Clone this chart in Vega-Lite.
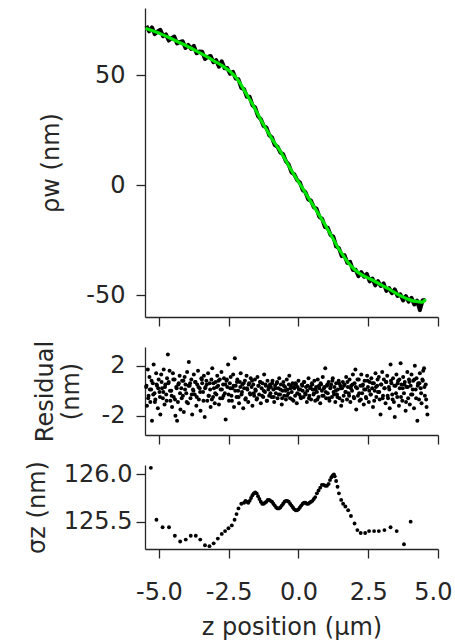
{
  "$schema": "https://vega.github.io/schema/vega-lite/v6.json",
  "background": "white",
  "padding": {"left": 25, "top": 8, "right": 0, "bottom": 2},
  "spacing": 30,
  "bounds": "flush",
  "config": {
    "view": {"stroke": null},
    "font": "DejaVu Sans",
    "axis": {
      "labelFont": "DejaVu Sans", "titleFont": "DejaVu Sans",
      "labelFontSize": 24, "titleFontSize": 24,
      "labelColor": "#262626", "titleColor": "#262626", "titleFontWeight": "normal",
      "domainColor": "#262626", "tickColor": "#262626",
      "domainWidth": 1.3, "tickWidth": 1.3, "tickSize": 9, "grid": false
    }
  },
  "datasets": {
    "rho": [
      {"z":-5.45,"rho":72.4},{"z":-5.35,"rho":69.9},{"z":-5.25,"rho":71.7},{"z":-5.15,"rho":68.6},{"z":-5.05,"rho":69.8},
      {"z":-4.95,"rho":70.6},{"z":-4.85,"rho":67.7},{"z":-4.75,"rho":68.5},{"z":-4.65,"rho":65.7},{"z":-4.55,"rho":66.8},
      {"z":-4.45,"rho":67.5},{"z":-4.35,"rho":64.4},{"z":-4.25,"rho":65.1},{"z":-4.15,"rho":65.4},{"z":-4.05,"rho":62.3},
      {"z":-3.95,"rho":63.7},{"z":-3.85,"rho":61.9},{"z":-3.75,"rho":63.3},{"z":-3.65,"rho":59.9},{"z":-3.55,"rho":60.7},
      {"z":-3.45,"rho":60.6},{"z":-3.35,"rho":57.3},{"z":-3.25,"rho":58.3},{"z":-3.15,"rho":58.7},{"z":-3.05,"rho":55.9},
      {"z":-2.95,"rho":56.8},{"z":-2.85,"rho":53.8},{"z":-2.75,"rho":56.3},{"z":-2.65,"rho":53.1},{"z":-2.55,"rho":53.2},
      {"z":-2.45,"rho":50.6},{"z":-2.35,"rho":51.5},{"z":-2.25,"rho":48.4},{"z":-2.15,"rho":48.1},{"z":-2.05,"rho":44.2},
      {"z":-1.95,"rho":43.6},{"z":-1.85,"rho":40.1},{"z":-1.75,"rho":40.1},{"z":-1.65,"rho":36.3},{"z":-1.55,"rho":35.2},
      {"z":-1.45,"rho":31.3},{"z":-1.35,"rho":30.0},{"z":-1.25,"rho":26.9},{"z":-1.15,"rho":26.2},{"z":-1.05,"rho":22.7},
      {"z":-0.95,"rho":21.6},{"z":-0.85,"rho":18.2},{"z":-0.75,"rho":17.4},{"z":-0.65,"rho":14.8},{"z":-0.55,"rho":14.0},
      {"z":-0.45,"rho":10.8},{"z":-0.35,"rho":9.3},{"z":-0.25,"rho":5.8},{"z":-0.15,"rho":4.9},{"z":-0.05,"rho":2.3},
      {"z":0.05,"rho":1.2},{"z":0.15,"rho":-2.2},{"z":0.25,"rho":-3.3},{"z":0.35,"rho":-6.5},{"z":0.45,"rho":-7.1},
      {"z":0.55,"rho":-10.1},{"z":0.65,"rho":-10.8},{"z":0.75,"rho":-14.5},{"z":0.85,"rho":-15.4},{"z":0.95,"rho":-19.1},
      {"z":1.05,"rho":-19.4},{"z":1.15,"rho":-22.7},{"z":1.25,"rho":-23.5},{"z":1.35,"rho":-27.9},{"z":1.45,"rho":-28.7},
      {"z":1.55,"rho":-32.3},{"z":1.65,"rho":-31.9},{"z":1.75,"rho":-35.4},{"z":1.85,"rho":-34.9},{"z":1.95,"rho":-38.6},
      {"z":2.05,"rho":-38.5},{"z":2.15,"rho":-41.4},{"z":2.25,"rho":-39.6},{"z":2.35,"rho":-41.7},{"z":2.45,"rho":-40.4},
      {"z":2.55,"rho":-43.8},{"z":2.65,"rho":-42.5},{"z":2.75,"rho":-45.6},{"z":2.85,"rho":-43.7},{"z":2.95,"rho":-45.9},
      {"z":3.05,"rho":-44.7},{"z":3.15,"rho":-48.1},{"z":3.25,"rho":-46.9},{"z":3.35,"rho":-49.2},{"z":3.45,"rho":-47.4},
      {"z":3.55,"rho":-50.4},{"z":3.65,"rho":-49.7},{"z":3.75,"rho":-52.5},{"z":3.85,"rho":-50.5},{"z":3.95,"rho":-53.0},
      {"z":4.05,"rho":-51.3},{"z":4.15,"rho":-54.3},{"z":4.25,"rho":-52.6},{"z":4.35,"rho":-56.9},{"z":4.45,"rho":-52.4},
      {"z":4.55,"rho":-52.3}
    ],
    "fit": [
      {"z":-5.48,"fit":71.3},{"z":-5.2,"fit":70.0},{"z":-4.9,"fit":68.5},{"z":-4.55,"fit":66.5},{"z":-4.25,"fit":64.7},
      {"z":-3.95,"fit":62.9},{"z":-3.65,"fit":60.9},{"z":-3.35,"fit":58.8},{"z":-3.05,"fit":56.6},{"z":-2.75,"fit":54.4},
      {"z":-2.45,"fit":51.6},{"z":-2.2,"fit":48.3},{"z":-2.03,"fit":45.0},{"z":-1.85,"fit":41.0},{"z":-1.67,"fit":37.3},
      {"z":-1.5,"fit":33.3},{"z":-1.31,"fit":28.8},{"z":-1.1,"fit":24.2},{"z":-0.95,"fit":21.0},{"z":-0.7,"fit":16.3},
      {"z":-0.47,"fit":11.5},{"z":-0.25,"fit":6.6},{"z":0.0,"fit":1.5},{"z":0.25,"fit":-3.6},{"z":0.48,"fit":-8.3},
      {"z":0.72,"fit":-13.2},{"z":0.96,"fit":-18.2},{"z":1.2,"fit":-23.5},{"z":1.38,"fit":-27.7},{"z":1.6,"fit":-32.0},
      {"z":1.8,"fit":-35.6},{"z":2.0,"fit":-38.3},{"z":2.2,"fit":-40.3},{"z":2.45,"fit":-42.0},{"z":2.7,"fit":-43.5},
      {"z":2.95,"fit":-45.3},{"z":3.2,"fit":-47.0},{"z":3.45,"fit":-48.9},{"z":3.7,"fit":-50.6},{"z":3.96,"fit":-52.1},
      {"z":4.15,"fit":-52.8},{"z":4.32,"fit":-53.1},{"z":4.44,"fit":-53.2},{"z":4.5,"fit":-52.8},{"z":4.55,"fit":-51.8}
    ],
    "res": [
      {"z":-5.46,"r":0.3},{"z":-5.43,"r":-1.2},{"z":-5.40,"r":1.7},{"z":-5.37,"r":-0.4},{"z":-5.34,"r":1.1},
      {"z":-5.31,"r":-0.9},{"z":-5.28,"r":0.1},{"z":-5.25,"r":-2.4},{"z":-5.22,"r":0.6},{"z":-5.19,"r":2.1},
      {"z":-5.16,"r":-0.2},{"z":-5.13,"r":-0.7},{"z":-5.10,"r":1.4},{"z":-5.07,"r":0.4},{"z":-5.04,"r":-1.4},
      {"z":-5.01,"r":0.9},{"z":-4.98,"r":-0.1},{"z":-4.95,"r":-1.9},{"z":-4.92,"r":1.3},{"z":-4.89,"r":0.2},
      {"z":-4.86,"r":-0.6},{"z":-4.83,"r":1.7},{"z":-4.80,"r":-1.1},{"z":-4.77,"r":0.5},{"z":-4.74,"r":-0.3},
      {"z":-4.71,"r":1.0},{"z":-4.68,"r":2.9},{"z":-4.65,"r":0.7},{"z":-4.62,"r":1.6},{"z":-4.59,"r":-0.8},
      {"z":-4.56,"r":0.0},{"z":-4.53,"r":-1.3},{"z":-4.50,"r":1.4},{"z":-4.47,"r":-0.5},{"z":-4.44,"r":0.9},
      {"z":-4.41,"r":-2.0},{"z":-4.38,"r":0.3},{"z":-4.35,"r":-2.4},{"z":-4.32,"r":-0.9},{"z":-4.29,"r":0.6},
      {"z":-4.26,"r":1.2},{"z":-4.23,"r":-1.5},{"z":-4.20,"r":0.2},{"z":-4.17,"r":0.8},{"z":-4.14,"r":-0.4},
      {"z":-4.11,"r":-1.7},{"z":-4.08,"r":1.1},{"z":-4.05,"r":0.5},{"z":-4.02,"r":-0.2},{"z":-3.99,"r":1.5},
      {"z":-3.96,"r":-1.0},{"z":-3.93,"r":2.3},{"z":-3.90,"r":0.4},{"z":-3.87,"r":-0.6},{"z":-3.84,"r":0.9},
      {"z":-3.81,"r":-1.9},{"z":-3.78,"r":0.1},{"z":-3.75,"r":1.3},{"z":-3.72,"r":-0.3},{"z":-3.69,"r":0.7},
      {"z":-3.66,"r":-1.2},{"z":-3.63,"r":0.5},{"z":-3.60,"r":1.6},{"z":-3.57,"r":-0.7},{"z":-3.54,"r":0.2},
      {"z":-3.51,"r":-1.6},{"z":-3.48,"r":1.0},{"z":-3.45,"r":0.6},{"z":-3.42,"r":-0.1},{"z":-3.39,"r":1.2},
      {"z":-3.36,"r":-2.1},{"z":-3.33,"r":0.3},{"z":-3.30,"r":0.8},{"z":-3.27,"r":-0.8},{"z":-3.24,"r":1.4},
      {"z":-3.21,"r":-0.4},{"z":-3.18,"r":0.6},{"z":-3.15,"r":-1.3},{"z":-3.12,"r":0.9},{"z":-3.09,"r":1.8},
      {"z":-3.06,"r":-0.5},{"z":-3.03,"r":0.2},{"z":-3.00,"r":-1.0},
      {"z":-2.97,"r":0.7},{"z":-2.94,"r":-0.3},{"z":-2.91,"r":1.2},{"z":-2.88,"r":0.4},{"z":-2.85,"r":-1.1},
      {"z":-2.82,"r":0.9},{"z":-2.79,"r":0.1},{"z":-2.76,"r":1.5},{"z":-2.73,"r":-0.6},{"z":-2.70,"r":0.5},
      {"z":-2.67,"r":1.0},{"z":-2.64,"r":-0.2},{"z":-2.61,"r":-2.3},{"z":-2.58,"r":0.8},{"z":-2.55,"r":0.3},
      {"z":-2.52,"r":2.1},{"z":-2.49,"r":-0.8},{"z":-2.46,"r":0.6},{"z":-2.43,"r":1.1},{"z":-2.40,"r":-0.4},
      {"z":-2.37,"r":0.2},{"z":-2.34,"r":1.3},{"z":-2.31,"r":-1.3},{"z":-2.28,"r":2.6},{"z":-2.25,"r":0.4},
      {"z":-2.22,"r":-0.5},{"z":-2.19,"r":0.9},{"z":-2.16,"r":0.0},{"z":-2.13,"r":-1.0},{"z":-2.10,"r":0.7},
      {"z":-2.07,"r":1.4},{"z":-2.04,"r":-0.3},{"z":-2.01,"r":0.5},{"z":-1.98,"r":-1.4},{"z":-1.95,"r":0.2},
      {"z":-1.92,"r":0.8},{"z":-1.89,"r":-0.6},{"z":-1.86,"r":1.2},{"z":-1.83,"r":0.1},{"z":-1.80,"r":-0.9},
      {"z":-1.77,"r":0.6},{"z":-1.74,"r":-0.2},{"z":-1.71,"r":1.0},{"z":-1.68,"r":0.3},{"z":-1.65,"r":-1.2},
      {"z":-1.62,"r":0.5},{"z":-1.59,"r":-0.4},{"z":-1.56,"r":0.9},{"z":-1.53,"r":0.0},{"z":-1.50,"r":-0.7},
      {"z":-1.47,"r":1.1},{"z":-1.44,"r":0.4},{"z":-1.41,"r":-0.3},{"z":-1.38,"r":0.7},{"z":-1.35,"r":-1.0},
      {"z":-1.32,"r":0.2},{"z":-1.29,"r":0.6},{"z":-1.26,"r":-0.5},{"z":-1.23,"r":1.3},{"z":-1.20,"r":-0.1},
      {"z":-1.17,"r":0.4},{"z":-1.14,"r":-0.8},{"z":-1.11,"r":0.8},{"z":-1.08,"r":0.1},{"z":-1.05,"r":-0.4},
      {"z":-1.02,"r":0.5},
      {"z":-0.99,"r":0.3},{"z":-0.96,"r":-0.5},{"z":-0.93,"r":0.8},{"z":-0.90,"r":0.1},{"z":-0.87,"r":-0.9},
      {"z":-0.84,"r":0.4},{"z":-0.81,"r":-0.2},{"z":-0.78,"r":0.6},{"z":-0.75,"r":-0.6},{"z":-0.72,"r":0.2},
      {"z":-0.69,"r":1.0},{"z":-0.66,"r":-0.3},{"z":-0.63,"r":0.5},{"z":-0.60,"r":-1.1},{"z":-0.57,"r":0.0},
      {"z":-0.54,"r":0.7},{"z":-0.51,"r":-0.4},{"z":-0.48,"r":0.3},{"z":-0.45,"r":-0.7},{"z":-0.42,"r":0.9},
      {"z":-0.39,"r":0.1},{"z":-0.36,"r":-0.2},{"z":-0.33,"r":1.2},{"z":-0.30,"r":-0.6},{"z":-0.27,"r":0.4},
      {"z":-0.24,"r":-0.1},{"z":-0.21,"r":0.6},{"z":-0.18,"r":-0.8},{"z":-0.15,"r":0.2},{"z":-0.12,"r":-0.4},
      {"z":-0.09,"r":0.5},{"z":-0.06,"r":-1.0},{"z":-0.03,"r":0.3},{"z":0.00,"r":0.8},{"z":0.03,"r":-0.3},
      {"z":0.06,"r":0.1},{"z":0.09,"r":-0.6},{"z":0.12,"r":0.5},{"z":0.15,"r":0.0},{"z":0.18,"r":-0.5},
      {"z":0.21,"r":0.7},{"z":0.24,"r":-0.2},{"z":0.27,"r":0.3},{"z":0.30,"r":-0.9},{"z":0.33,"r":0.4},
      {"z":0.36,"r":1.0},{"z":0.39,"r":-0.4},{"z":0.42,"r":0.2},{"z":0.45,"r":-0.7},{"z":0.48,"r":0.6},
      {"z":0.51,"r":0.1},{"z":0.54,"r":-0.3},{"z":0.57,"r":0.8},{"z":0.60,"r":-0.8},{"z":0.63,"r":0.3},
      {"z":0.66,"r":-0.1},{"z":0.69,"r":0.9},{"z":0.72,"r":-0.5},{"z":0.75,"r":0.2},{"z":0.78,"r":-1.0},
      {"z":0.81,"r":0.5},{"z":0.84,"r":0.0},{"z":0.87,"r":1.1},{"z":0.90,"r":-0.4},{"z":0.93,"r":0.3},
      {"z":0.96,"r":1.8},{"z":0.99,"r":-0.6},{"z":1.02,"r":0.4},{"z":1.05,"r":-0.2},{"z":1.08,"r":0.7},
      {"z":1.11,"r":-0.8},{"z":1.14,"r":0.2},{"z":1.17,"r":0.5},{"z":1.20,"r":-0.5},{"z":1.23,"r":1.0},
      {"z":1.26,"r":-0.1},{"z":1.29,"r":0.3},{"z":1.32,"r":-0.9},{"z":1.35,"r":0.6},{"z":1.38,"r":-0.3},
      {"z":1.41,"r":0.1},{"z":1.44,"r":0.8},{"z":1.47,"r":-0.6},{"z":1.50,"r":0.4},{"z":1.53,"r":-1.2},
      {"z":1.56,"r":0.2},{"z":1.59,"r":0.7},{"z":1.62,"r":-0.4},{"z":1.65,"r":0.5},{"z":1.68,"r":-0.1},
      {"z":1.71,"r":1.1},{"z":1.74,"r":-0.7},{"z":1.77,"r":0.3},{"z":1.80,"r":-0.2},{"z":1.83,"r":0.9},
      {"z":1.86,"r":-0.9},{"z":1.89,"r":0.4},{"z":1.92,"r":0.0},{"z":1.95,"r":1.3},{"z":1.98,"r":-0.5},
      {"z":2.01,"r":0.6},{"z":2.04,"r":1.7},{"z":2.07,"r":-1.5},{"z":2.10,"r":0.2},{"z":2.13,"r":-0.4},
      {"z":2.16,"r":0.9},{"z":2.19,"r":-0.8},{"z":2.22,"r":0.4},{"z":2.25,"r":1.3},{"z":2.28,"r":-0.2},
      {"z":2.31,"r":0.5},{"z":2.34,"r":-1.1},{"z":2.37,"r":0.8},{"z":2.40,"r":0.1},{"z":2.43,"r":-0.6},
      {"z":2.46,"r":1.2},{"z":2.49,"r":0.3},{"z":2.52,"r":-0.9},{"z":2.55,"r":0.7},{"z":2.58,"r":-0.3},
      {"z":2.61,"r":1.0},{"z":2.64,"r":0.2},{"z":2.67,"r":-1.3},{"z":2.70,"r":0.6},{"z":2.73,"r":0.0},
      {"z":2.76,"r":1.4},{"z":2.79,"r":-0.5},{"z":2.82,"r":0.4},{"z":2.85,"r":-0.1},{"z":2.88,"r":1.1},
      {"z":2.91,"r":-0.7},{"z":2.94,"r":-1.9},{"z":2.97,"r":0.5},{"z":3.00,"r":1.5},{"z":3.03,"r":-0.4},
      {"z":3.06,"r":0.9},{"z":3.09,"r":0.2},{"z":3.12,"r":-1.0},{"z":3.15,"r":0.7},{"z":3.18,"r":1.2},
      {"z":3.21,"r":-0.6},{"z":3.24,"r":0.3},{"z":3.27,"r":-1.4},{"z":3.30,"r":2.1},{"z":3.33,"r":0.6},
      {"z":3.36,"r":-0.3},{"z":3.39,"r":1.0},{"z":3.42,"r":-0.9},{"z":3.45,"r":-2.1},{"z":3.48,"r":0.4},
      {"z":3.51,"r":1.3},{"z":3.54,"r":-0.5},{"z":3.57,"r":0.8},{"z":3.60,"r":-1.2},{"z":3.63,"r":0.2},
      {"z":3.66,"r":2.2},{"z":3.69,"r":0.5},{"z":3.72,"r":-0.8},{"z":3.75,"r":1.1},{"z":3.78,"r":-0.2},
      {"z":3.81,"r":0.7},{"z":3.84,"r":-1.6},{"z":3.87,"r":0.3},{"z":3.90,"r":1.5},{"z":3.93,"r":-0.6},
      {"z":3.96,"r":0.9},{"z":3.99,"r":-1.1},{"z":4.02,"r":0.4},{"z":4.05,"r":1.3},{"z":4.08,"r":-0.3},
      {"z":4.11,"r":0.8},{"z":4.14,"r":-1.4},{"z":4.17,"r":2.0},{"z":4.20,"r":0.1},{"z":4.23,"r":1.0},
      {"z":4.26,"r":-2.4},{"z":4.29,"r":0.6},{"z":4.32,"r":-0.7},{"z":4.35,"r":1.4},{"z":4.38,"r":0.2},
      {"z":4.41,"r":-1.0},{"z":4.44,"r":0.9},{"z":4.47,"r":1.6},{"z":4.50,"r":1.8},{"z":4.53,"r":-0.4},
      {"z":4.56,"r":0.5},{"z":4.59,"r":-1.3},{"z":4.62,"r":-1.9},
      {"z":-5.445,"r":0.4},{"z":-5.385,"r":-0.6},{"z":-5.325,"r":0.1},{"z":-5.265,"r":0.8},{"z":-5.205,"r":-0.3},
      {"z":-5.145,"r":-0.9},{"z":-5.085,"r":0.5},{"z":-5.025,"r":0.2},{"z":-4.965,"r":-0.5},{"z":-4.905,"r":0.7},
      {"z":-4.845,"r":-0.1},{"z":-4.785,"r":0.3},{"z":-4.725,"r":-0.8},{"z":-4.665,"r":0.6},{"z":-4.605,"r":0.0},
      {"z":-4.545,"r":-0.4},{"z":-4.485,"r":0.9},{"z":-4.425,"r":-0.7},{"z":-4.365,"r":0.2},{"z":-4.305,"r":0.5},
      {"z":-4.245,"r":-0.2},{"z":-4.185,"r":-0.6},{"z":-4.125,"r":0.8},{"z":-4.065,"r":0.1},{"z":-4.005,"r":-0.9},
      {"z":-3.945,"r":0.4},{"z":-3.885,"r":0.6},{"z":-3.825,"r":-0.3},{"z":-3.765,"r":0.0},{"z":-3.705,"r":0.7},
      {"z":-3.645,"r":-0.5},{"z":-3.585,"r":0.3},{"z":-3.525,"r":-0.1},{"z":-3.465,"r":0.9},{"z":-3.405,"r":-0.8},
      {"z":-3.345,"r":0.2},{"z":-3.285,"r":0.5},{"z":-3.225,"r":-0.4},{"z":-3.165,"r":0.1},{"z":-3.105,"r":-0.7},
      {"z":-3.045,"r":0.6},{"z":-2.985,"r":-0.2},{"z":-2.925,"r":0.3},{"z":-2.865,"r":0.8},{"z":-2.805,"r":-0.6},
      {"z":-2.745,"r":0.1},{"z":-2.685,"r":-0.4},{"z":-2.625,"r":0.5},{"z":-2.565,"r":0.9},{"z":-2.505,"r":-0.3},
      {"z":-2.445,"r":0.2},{"z":-2.385,"r":-0.8},{"z":-2.325,"r":0.4},{"z":-2.265,"r":0.0},{"z":-2.205,"r":0.7},
      {"z":-2.145,"r":-0.5},{"z":-2.085,"r":0.3},{"z":-2.025,"r":-0.1},{"z":-1.965,"r":0.6},{"z":-1.905,"r":-0.7},
      {"z":-1.845,"r":0.2},{"z":-1.785,"r":0.5},{"z":-1.725,"r":-0.3},{"z":-1.665,"r":0.8},{"z":-1.605,"r":-0.2},
      {"z":-1.545,"r":0.1},{"z":-1.485,"r":-0.6},{"z":-1.425,"r":0.4},{"z":-1.365,"r":0.7},{"z":-1.305,"r":-0.4},
      {"z":-1.245,"r":0.0},{"z":-1.185,"r":0.5},{"z":-1.125,"r":-0.8},{"z":-1.065,"r":0.3},{"z":-1.005,"r":-0.2},
      {"z":-0.945,"r":0.6},{"z":-0.885,"r":-0.5},{"z":-0.825,"r":0.2},{"z":-0.765,"r":0.7},{"z":-0.705,"r":-0.3},
      {"z":-0.645,"r":0.1},{"z":-0.585,"r":-0.6},{"z":-0.525,"r":0.4},{"z":-0.465,"r":0.0},{"z":-0.405,"r":-0.4},
      {"z":-0.345,"r":0.5},{"z":-0.285,"r":0.2},{"z":-0.225,"r":-0.7},{"z":-0.165,"r":0.3},{"z":-0.105,"r":0.6},
      {"z":-0.045,"r":-0.2},{"z":0.015,"r":0.1},{"z":0.075,"r":-0.5},{"z":0.135,"r":0.4},{"z":0.195,"r":0.7},
      {"z":0.255,"r":-0.3},{"z":0.315,"r":0.0},{"z":0.375,"r":-0.6},{"z":0.435,"r":0.3},{"z":0.495,"r":0.5},
      {"z":0.555,"r":-0.2},{"z":0.615,"r":0.1},{"z":0.675,"r":-0.7},{"z":0.735,"r":0.4},{"z":0.795,"r":0.6},
      {"z":0.855,"r":-0.4},{"z":0.915,"r":0.2},{"z":0.975,"r":-0.1},{"z":1.035,"r":0.5},{"z":1.095,"r":-0.6},
      {"z":1.155,"r":0.3},{"z":1.215,"r":0.8},{"z":1.275,"r":-0.3},{"z":1.335,"r":0.0},{"z":1.395,"r":-0.5},
      {"z":1.455,"r":0.6},{"z":1.515,"r":0.2},{"z":1.575,"r":-0.8},{"z":1.635,"r":0.4},{"z":1.695,"r":-0.1},
      {"z":1.755,"r":0.7},{"z":1.815,"r":-0.4},{"z":1.875,"r":0.2},{"z":1.935,"r":0.5},{"z":1.995,"r":-0.6},
      {"z":2.055,"r":0.3},{"z":2.115,"r":0.9},{"z":2.175,"r":-0.2},{"z":2.235,"r":-0.7},{"z":2.295,"r":0.4},
      {"z":2.355,"r":0.1},{"z":2.415,"r":-0.5},{"z":2.475,"r":0.8},{"z":2.535,"r":0.0},{"z":2.595,"r":-0.3},
      {"z":2.655,"r":0.6},{"z":2.715,"r":-0.8},{"z":2.775,"r":0.3},{"z":2.835,"r":0.9},{"z":2.895,"r":-0.1},
      {"z":2.955,"r":0.5},{"z":3.015,"r":-0.6},{"z":3.075,"r":0.2},{"z":3.135,"r":0.7},{"z":3.195,"r":-0.4},
      {"z":3.255,"r":0.1},{"z":3.315,"r":0.8},{"z":3.375,"r":-0.7},{"z":3.435,"r":0.4},{"z":3.495,"r":-0.2},
      {"z":3.555,"r":0.6},{"z":3.615,"r":0.9},{"z":3.675,"r":-0.5},{"z":3.735,"r":0.2},{"z":3.795,"r":0.5},
      {"z":3.855,"r":-0.9},{"z":3.915,"r":0.3},{"z":3.975,"r":0.7},{"z":4.035,"r":-0.3},{"z":4.095,"r":0.1},
      {"z":4.155,"r":0.9},{"z":4.215,"r":-0.6},{"z":4.275,"r":0.4},{"z":4.335,"r":0.6},{"z":4.395,"r":-0.2},
      {"z":4.455,"r":0.8},{"z":4.515,"r":0.3},{"z":4.575,"r":-0.7}
    ],
    "sig": [
      {"z":-5.29,"s":126.07},{"z":-5.09,"s":125.52},{"z":-4.87,"s":125.44},{"z":-4.64,"s":125.44},{"z":-4.43,"s":125.35},
      {"z":-4.24,"s":125.29},{"z":-4.04,"s":125.31},{"z":-3.86,"s":125.35},{"z":-3.68,"s":125.35},{"z":-3.52,"s":125.31},
      {"z":-3.35,"s":125.25},{"z":-3.19,"s":125.24},{"z":-3.04,"s":125.27},{"z":-2.89,"s":125.32},{"z":-2.75,"s":125.37},
      {"z":-2.63,"s":125.40},{"z":-2.51,"s":125.43},{"z":-2.39,"s":125.46},{"z":-2.29,"s":125.52},{"z":-2.22,"s":125.58},
      {"z":-2.15,"s":125.64},{"z":-2.05,"s":125.69},
      {"z":-1.95,"s":125.70},{"z":-1.90,"s":125.72},{"z":-1.85,"s":125.71},{"z":-1.80,"s":125.70},{"z":-1.75,"s":125.72},
      {"z":-1.70,"s":125.75},{"z":-1.65,"s":125.78},{"z":-1.60,"s":125.80},{"z":-1.55,"s":125.81},{"z":-1.50,"s":125.80},
      {"z":-1.45,"s":125.77},{"z":-1.40,"s":125.74},{"z":-1.35,"s":125.71},{"z":-1.30,"s":125.69},{"z":-1.25,"s":125.69},
      {"z":-1.20,"s":125.70},{"z":-1.15,"s":125.71},{"z":-1.10,"s":125.73},{"z":-1.05,"s":125.73},{"z":-1.00,"s":125.72},
      {"z":-0.95,"s":125.71},{"z":-0.90,"s":125.69},{"z":-0.85,"s":125.67},{"z":-0.80,"s":125.65},{"z":-0.75,"s":125.64},
      {"z":-0.70,"s":125.64},{"z":-0.65,"s":125.65},{"z":-0.60,"s":125.67},{"z":-0.55,"s":125.69},{"z":-0.50,"s":125.71},
      {"z":-0.45,"s":125.72},{"z":-0.40,"s":125.72},{"z":-0.35,"s":125.71},{"z":-0.30,"s":125.69},{"z":-0.25,"s":125.67},
      {"z":-0.20,"s":125.65},{"z":-0.15,"s":125.63},{"z":-0.10,"s":125.62},{"z":-0.05,"s":125.62},{"z":0.00,"s":125.63},
      {"z":0.05,"s":125.65},{"z":0.10,"s":125.67},{"z":0.15,"s":125.69},{"z":0.20,"s":125.70},{"z":0.25,"s":125.70},
      {"z":0.30,"s":125.69},{"z":0.35,"s":125.69},{"z":0.40,"s":125.70},{"z":0.45,"s":125.71},{"z":0.50,"s":125.72},
      {"z":0.55,"s":125.74},
      {"z":0.60,"s":125.76},{"z":0.66,"s":125.80},{"z":0.72,"s":125.83},{"z":0.78,"s":125.86},{"z":0.84,"s":125.89},
      {"z":0.90,"s":125.89},{"z":0.96,"s":125.88},{"z":1.02,"s":125.88},{"z":1.08,"s":125.90},{"z":1.13,"s":125.94},
      {"z":1.18,"s":125.97},{"z":1.23,"s":125.99},{"z":1.27,"s":126.00},{"z":1.30,"s":125.98},{"z":1.35,"s":125.93},
      {"z":1.40,"s":125.87},{"z":1.45,"s":125.80},{"z":1.53,"s":125.73},{"z":1.60,"s":125.69},{"z":1.68,"s":125.66},
      {"z":1.78,"s":125.62},{"z":1.88,"s":125.56},{"z":2.01,"s":125.48},{"z":2.11,"s":125.41},{"z":2.23,"s":125.38},
      {"z":2.39,"s":125.38},{"z":2.53,"s":125.40},{"z":2.71,"s":125.40},{"z":2.88,"s":125.40},{"z":3.08,"s":125.41},
      {"z":3.30,"s":125.44},{"z":3.52,"s":125.40},{"z":3.78,"s":125.26},{"z":4.02,"s":125.50}
    ]
  },
  "vconcat": [
    {
      "width": 293, "height": 309,
      "layer": [
        {
          "data": {"name": "rho"},
          "mark": {"type": "line", "color": "black", "strokeWidth": 4, "strokeJoin": "round"},
          "encoding": {
            "x": {"field": "z", "type": "quantitative", "scale": {"domain": [-5.5, 5], "nice": false, "zero": false},
                  "axis": {"values": [-5, -2.5, 0, 2.5, 5], "labels": false, "title": null}},
            "y": {"field": "rho", "type": "quantitative", "scale": {"domain": [-60, 80.5], "nice": false, "zero": false},
                  "axis": {"values": [-50, 0, 50], "title": "ρw (nm)", "labelPadding": 11, "titlePadding": 22,
                           "labelExpr": "datum.value < 0 ? '-' + format(-datum.value, 'd') : format(datum.value, 'd')"}}
          }
        },
        {
          "data": {"name": "fit"},
          "mark": {"type": "line", "color": "#00e400", "strokeWidth": 3.2, "interpolate": "monotone"},
          "encoding": {
            "x": {"field": "z", "type": "quantitative", "scale": {"domain": [-5.5, 5], "nice": false, "zero": false}},
            "y": {"field": "fit", "type": "quantitative", "scale": {"domain": [-60, 80.5], "nice": false, "zero": false}}
          }
        }
      ]
    },
    {
      "width": 293, "height": 88,
      "data": {"name": "res"},
      "mark": {"type": "point", "filled": true, "size": 16, "color": "black", "opacity": 1},
      "encoding": {
        "x": {"field": "z", "type": "quantitative", "scale": {"domain": [-5.5, 5], "nice": false, "zero": false},
              "axis": {"values": [-5, -2.5, 0, 2.5, 5], "labels": false, "title": null}},
        "y": {"field": "r", "type": "quantitative", "scale": {"domain": [-3.55, 3.5], "nice": false, "zero": false},
              "axis": {"values": [-2, 2], "title": ["Residual", "(nm)"], "labelPadding": 11, "titlePadding": 18,
                       "labelExpr": "datum.value < 0 ? '-' + format(-datum.value, 'd') : format(datum.value, 'd')"}}
      }
    },
    {
      "width": 293, "height": 84,
      "data": {"name": "sig"},
      "mark": {"type": "point", "filled": true, "size": 15, "color": "black", "opacity": 1},
      "encoding": {
        "x": {"field": "z", "type": "quantitative", "scale": {"domain": [-5.5, 5], "nice": false, "zero": false},
              "axis": {"values": [-5, -2.5, 0, 2.5, 5], "title": "z position (µm)", "labelPadding": 22, "titlePadding": 11,
                       "labelFlush": true, "labelFlushOffset": 14,
                       "labelExpr": "datum.value < 0 ? '-' + format(-datum.value, '.1f') : format(datum.value, '.1f')"}},
        "y": {"field": "s", "type": "quantitative", "scale": {"domain": [125.21, 126.1], "nice": false, "zero": false},
              "axis": {"values": [125.5, 126.0], "title": "σz (nm)", "labelPadding": 4, "titlePadding": 14,
                       "labelExpr": "format(datum.value, '.1f')"}}
      }
    }
  ]
}
